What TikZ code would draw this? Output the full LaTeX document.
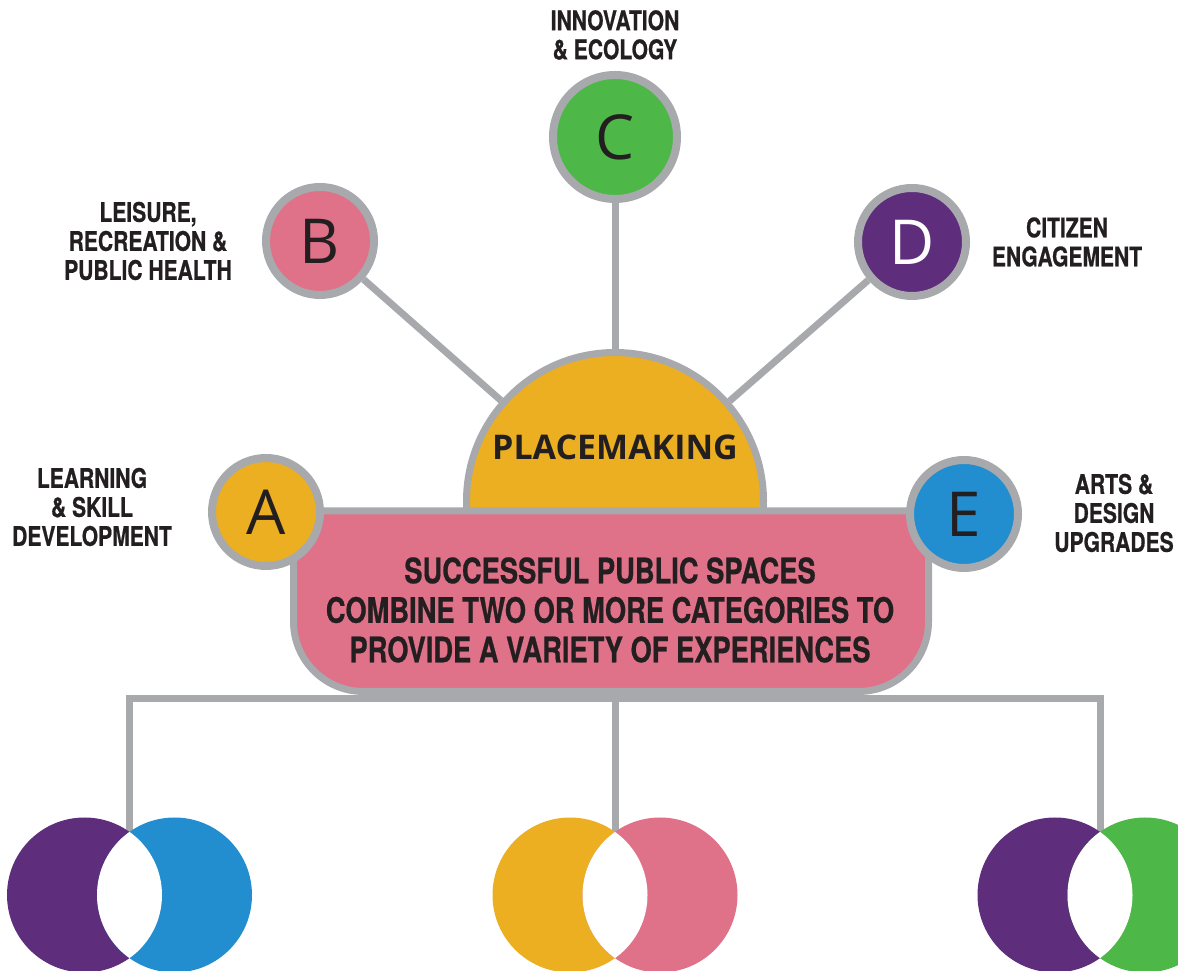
\documentclass[tikz,border=0pt]{standalone}
\usepackage{fontspec}
\newfontfamily\condfont[FakeStretch=0.78, FakeBold=0.6]{TeX Gyre Heros}
\newfontfamily\roundfont{Open Sans}
\usetikzlibrary{positioning}
\definecolor{rimgray}{RGB}{167,169,172}
\definecolor{inkdark}{RGB}{35,31,32}
\definecolor{catgold}{RGB}{235,175,33}
\definecolor{catpink}{RGB}{223,114,137}
\definecolor{catgreen}{RGB}{77,184,72}
\definecolor{catpurple}{RGB}{94,45,123}
\definecolor{catblue}{RGB}{35,142,207}

\tikzset{
  catnode/.style={circle, draw=rimgray, line width=8pt, minimum size=108pt, inner sep=0pt,
    text=inkdark, font=\roundfont\fontsize{62}{62}\selectfont},
  tag/.style={align=center, text=inkdark, font=\condfont\bfseries\fontsize{27}{29}\selectfont},
  msg/.style={align=center, text=inkdark, font=\condfont\bfseries\fontsize{35}{39.5}\selectfont},
  link/.style={draw=rimgray, line width=7pt},
}

\begin{document}
\begin{tikzpicture}[x=1pt,y=1pt]
  \useasboundingbox (0,0) rectangle (1178,971);
  \clip (0,0) rectangle (1178,971);

  % dome behind the message box
  \node[circle, draw=rimgray, line width=7pt, fill=catgold, minimum size=297pt, inner sep=0pt] (dome) at (615,470) {};
  \node[text=inkdark, font=\roundfont\bfseries\fontsize{34}{34}\selectfont] (domelabel) at (615,524) {PLACEMAKING};

  % message box, square on top and rounded below
  \draw[draw=rimgray, line width=7pt, fill=catpink]
    (293.5,460) -- (293.5,349.5) arc[start angle=180, end angle=270, radius=70]
    -- (858.5,279.5) arc[start angle=270, end angle=360, radius=70]
    -- (928.5,460) -- cycle;
  \node[msg] (msg) at (610,361) {SUCCESSFUL PUBLIC SPACES\\COMBINE TWO OR MORE CATEGORIES TO\\PROVIDE A VARIETY OF EXPERIENCES};

  % the five categories
  \node[catnode, fill=catgold] (A) at (266,459) {A};
  \node[catnode, fill=catpink] (B) at (320,730) {B};
  \node[catnode, fill=catgreen, minimum size=124pt] (C) at (615,834) {C};
  \node[catnode, fill=catpurple, text=white] (D) at (912,729) {D};
  \node[catnode, fill=catblue] (E) at (964,457) {E};

  \node[tag] (Atag) at (92,464) {LEARNING\\\& SKILL\\DEVELOPMENT};
  \node[tag] (Btag) at (148,730) {LEISURE,\\RECREATION \&\\PUBLIC HEALTH};
  \node[tag] (Ctag) at (615,936) {INNOVATION\\\& ECOLOGY};
  \node[tag] (Dtag) at (1067,729) {CITIZEN\\ENGAGEMENT};
  \node[tag] (Etag) at (1114,458) {ARTS \&\\DESIGN\\UPGRADES};

  % spokes into the dome
  \draw[link] (B) -- (dome);
  \draw[link] (C) -- (dome);
  \draw[link] (D) -- (dome);

  % tree down to the paired examples
  \coordinate (hub) at (615,272);
  \coordinate (pairL) at (129.5,139);
  \coordinate (pairM) at (615,139);
  \coordinate (pairR) at (1100,139);
  \draw[link] (pairL) |- (hub) -| (pairR);
  \draw[link] (hub) -- (pairM);

  % overlapping pairs with an empty lens
  \foreach \cx/\lcol/\rcol in {129.5/catpurple/catblue, 615/catgold/catpink, 1100/catpurple/catgreen}{
    \fill[\lcol] ({\cx-45},76) circle (77.5pt);
    \fill[\rcol] ({\cx+45},76) circle (77.5pt);
    \begin{scope}
      \clip ({\cx-45},76) circle (77.5pt);
      \fill[white] ({\cx+45},76) circle (77.5pt);
    \end{scope}
  }
\end{tikzpicture}
\end{document}
